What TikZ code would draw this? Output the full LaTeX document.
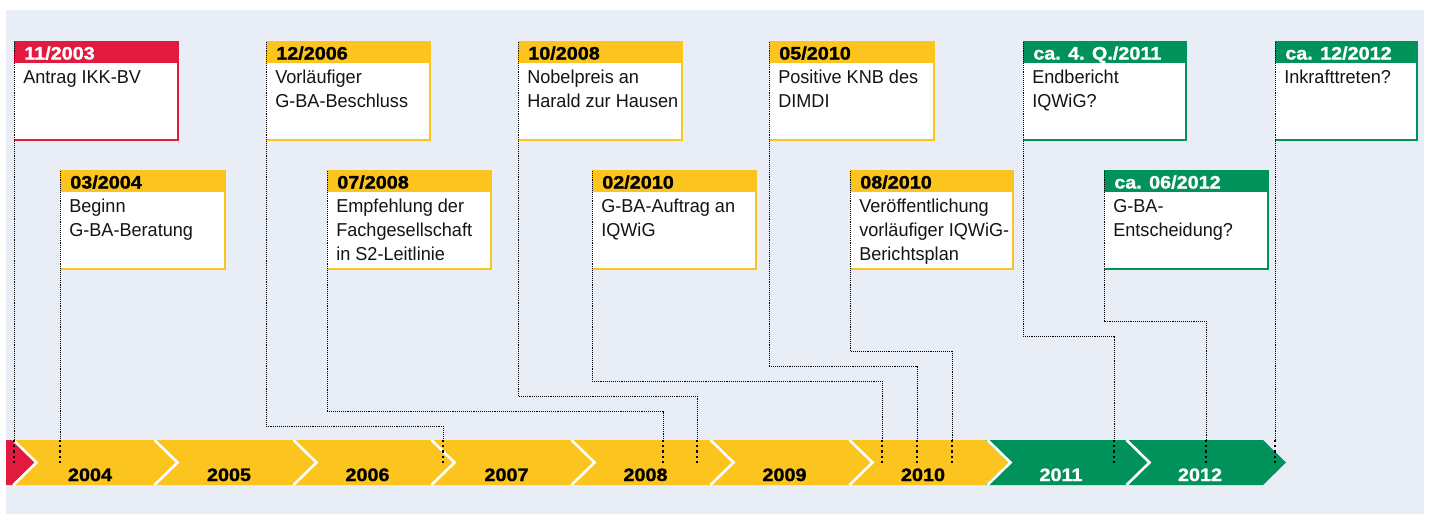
\documentclass[tikz,border=0pt]{standalone}
\usepackage{fontspec}
\setmainfont[FakeStretch=0.97]{Liberation Sans}
\newfontfamily\hdrfont[FakeStretch=1.1, BoldFeatures={FakeBold=1.3}]{Liberation Sans}
\newdimen\pxu \pxu=0.75pt
\definecolor{tlred}{RGB}{227,26,64}
\definecolor{tlyel}{RGB}{251,196,30}
\definecolor{tlgrn}{RGB}{0,146,90}
\definecolor{tlbg}{RGB}{233,237,246}
\tikzset{
  evframe/.style={anchor=north west, minimum height=98\pxu, inner sep=0pt, outer sep=0pt, fill=white},
  hdtext/.style={anchor=base west, inner sep=0pt, font=\hdrfont\bfseries\fontsize{13.5}{16}\selectfont},
  bodytext/.style={anchor=base west, inner sep=0pt, font=\fontsize{14}{18}\selectfont, text=black!92},
  yr/.style={anchor=base, inner sep=0pt, font=\hdrfont\bfseries\fontsize{13.5}{16}\selectfont},
  conn/.style={black, line width=1\pxu, dash pattern=on 1.1\pxu off 1\pxu},
  bdots/.style={black, line width=2.6\pxu, dash pattern=on 2.2\pxu off 3\pxu},
  sep/.style={white!96!tlbg, line width=2.6\pxu},
}
\newcommand\evbox[7]{%
  \node[evframe, minimum width=#3\pxu] (#1) at #2 {};
  \fill[#4] (#1.north west) rectangle ([yshift=-21\pxu]#1.north east);
  \draw[#4, line width=1.5\pxu] (#1.north west) -- (#1.north east) -- (#1.south east) -- (#1.south west);
  \node[hdtext, text=#5] (#1h) at ([xshift=10\pxu, yshift=-17.5\pxu]#1.north west) {#6};
  \node[bodytext] (#1t) at ([xshift=9\pxu, yshift=-41.5\pxu]#1.north west) {\begin{tabular}[t]{@{}l@{}}#7\end{tabular}};
}
\begin{document}
\begin{tikzpicture}[x=0.75pt, y=-0.75pt]
\fill[white] (0,0) rectangle (1429,514);
\useasboundingbox (0,0) rectangle (1429,514);
\fill[tlbg] (6,10) rectangle (1424,514);

% timeline band
\fill[tlred] (6,440) -- (12,440) -- (35,462.5) -- (12,485) -- (6,485) -- cycle;
\foreach \a/\b/\c in {35/176/tlyel, 176/315/tlyel, 315/453/tlyel, 453/593/tlyel, 593/732/tlyel, 732/871/tlyel, 871/1009/tlyel, 1009/1148/tlgrn, 1148/1286/tlgrn}
  \fill[\c] (\a-23,440) -- (\b-23,440) -- (\b,462.5) -- (\b-23,485) -- (\a-23,485) -- (\a,462.5) -- cycle;
\foreach \t in {35,176,315,453,593,732,871,1009,1148}
  \draw[sep] (\t-21.5,440) -- (\t+1.5,462.5) -- (\t-21.5,485);

% years
\node[yr] (y2004) at (90,481) {2004};
\node[yr] (y2005) at (229,481) {2005};
\node[yr] (y2006) at (367.5,481) {2006};
\node[yr] (y2007) at (506.5,481) {2007};
\node[yr] (y2008) at (645.5,481) {2008};
\node[yr] (y2009) at (784.5,481) {2009};
\node[yr] (y2010) at (923,481) {2010};
\node[yr, text=white] (y2011) at (1061,481) {2011};
\node[yr, text=white] (y2012) at (1200,481) {2012};

% boxes
\evbox{b1}{(14,42)}{164}{tlred}{white}{11/2003}{Antrag IKK-BV}
\evbox{b2}{(60,171)}{165}{tlyel}{black}{03/2004}{Beginn\\G-BA-Beratung}
\evbox{b3}{(266,42)}{164}{tlyel}{black}{12/2006}{Vorläufiger\\G-BA-Beschluss}
\evbox{b4}{(327,171)}{164}{tlyel}{black}{07/2008}{Empfehlung der\\Fachgesellschaft\\in S2-Leitlinie}
\evbox{b5}{(518,42)}{164}{tlyel}{black}{10/2008}{Nobelpreis an\\Harald zur Hausen}
\evbox{b6}{(592,171)}{164}{tlyel}{black}{02/2010}{G-BA-Auftrag an\\IQWiG}
\evbox{b7}{(769,42)}{165}{tlyel}{black}{05/2010}{Positive KNB des\\DIMDI}
\evbox{b8}{(850,171)}{163}{tlyel}{black}{08/2010}{Veröffentlichung\\vorläufiger IQWiG-\\Berichtsplan}
\evbox{b9}{(1023,42)}{163}{tlgrn}{white}{ca. 4. Q./2011}{Endbericht\\IQWiG?}
\evbox{b10}{(1104,171)}{164}{tlgrn}{white}{ca. 06/2012}{G-BA-\\Entscheidung?}
\evbox{b11}{(1275,42)}{142}{tlgrn}{white}{ca. 12/2012}{Inkrafttreten?}

% connector points
\coordinate (e1) at (14,440);   \coordinate (d1) at (14,463);
\coordinate (e2) at (60,440);   \coordinate (d2) at (60,463);
\coordinate (k3) at (443,426);  \coordinate (e3) at (443,440);  \coordinate (d3) at (443,463);
\coordinate (k4) at (663,411);  \coordinate (e4) at (663,440);  \coordinate (d4) at (663,463);
\coordinate (k5) at (697,396);  \coordinate (e5) at (697,440);  \coordinate (d5) at (697,463);
\coordinate (k6) at (882,381);  \coordinate (e6) at (882,440);  \coordinate (d6) at (882,463);
\coordinate (k7) at (917,366);  \coordinate (e7) at (917,440);  \coordinate (d7) at (917,463);
\coordinate (k8) at (952,351);  \coordinate (e8) at (952,440);  \coordinate (d8) at (952,463);
\coordinate (k9) at (1114,336); \coordinate (e9) at (1114,440); \coordinate (d9) at (1114,463);
\coordinate (k10) at (1206,321); \coordinate (e10) at (1206,440); \coordinate (d10) at (1206,463);
\coordinate (e11) at (1275,440); \coordinate (d11) at (1275,463);

% connectors
\draw[conn] (b1.north west) -- (e1);
\draw[conn] (b2.north west) -- (e2);
\foreach \i in {3,...,10}
  \draw[conn] (b\i.north west) |- (k\i) -- (e\i);
\draw[conn] (b11.north west) -- (e11);
\foreach \i in {1,...,11}
  \draw[bdots] (e\i) -- (d\i);
\end{tikzpicture}
\end{document}
